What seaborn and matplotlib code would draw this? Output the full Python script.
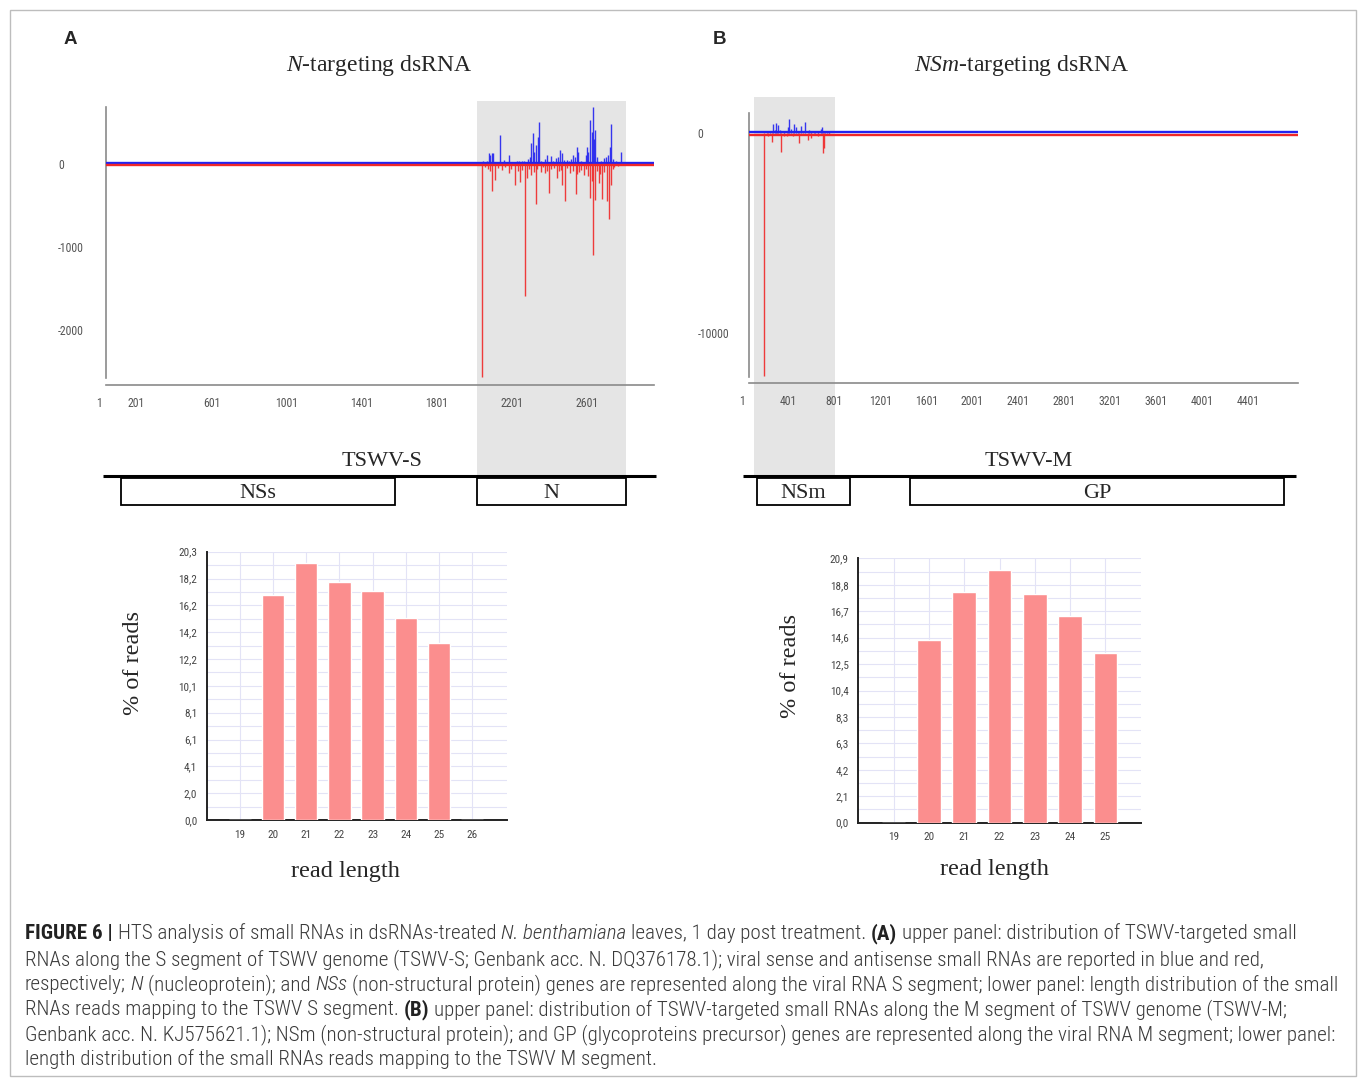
import numpy as np
import pandas as pd
import matplotlib
matplotlib.use("Agg")
import matplotlib.pyplot as plt
import matplotlib.transforms as mtransforms
from matplotlib.patches import Rectangle
from matplotlib.ticker import AutoMinorLocator
from matplotlib import font_manager
import seaborn as sns

# ------------------------------------------------------------------ data
# Panel A : TSWV-S coverage (nt position, read count)
s_length = 2921
s_sense_pos = [2011, 2030, 2040, 2047, 2056, 2065, 2080, 2101, 2120, 2150, 2170, 2189,
               2200, 2216, 2230, 2248, 2258, 2266, 2275, 2283, 2292, 2301, 2308, 2320,
               2340, 2352, 2371, 2385, 2400, 2410, 2420, 2429, 2440, 2459, 2470, 2480,
               2491, 2500, 2509, 2518, 2530, 2560, 2565, 2571, 2580, 2589, 2596, 2600,
               2605, 2620, 2640, 2655, 2665, 2677, 2685, 2690, 2700, 2720, 2745]
s_sense_val = [30, 40, 129, 110, 129, 135, 25, 349, 45, 108, 25, 30,
               40, 35, 30, 60, 80, 249, 370, 150, 225, 325, 502, 40,
               60, 108, 96, 35, 70, 90, 169, 129, 50, 48, 40, 60,
               108, 90, 201, 145, 40, 110, 200, 145, 530, 390, 691, 300,
               410, 80, 40, 70, 88, 110, 200, 478, 60, 30, 145]
s_anti_pos = [2006, 2020, 2035, 2045, 2058, 2072, 2090, 2110, 2125, 2150, 2160, 2180,
              2195, 2207, 2220, 2232, 2243, 2255, 2264, 2280, 2292, 2300, 2320, 2330,
              2342, 2350, 2363, 2375, 2390, 2402, 2415, 2425, 2431, 2448, 2460, 2473,
              2490, 2504, 2510, 2520, 2530, 2548, 2560, 2570, 2580, 2590, 2596, 2606,
              2615, 2626, 2635, 2644, 2655, 2669, 2679, 2690, 2700, 2710, 2730]
s_anti_val = [-2570, -40, -60, -80, -326, -193, -45, -70, -35, -112, -60, -253,
              -90, -213, -75, -1587, -169, -60, -133, -100, -482, -55, -96, -40,
              -112, -80, -353, -60, -45, -169, -90, -70, -253, -442, -50, -112,
              -85, -365, -120, -96, -70, -133, -60, -150, -414, -200, -1097, -434,
              -90, -233, -120, -426, -100, -450, -663, -253, -60, -40, -30]
s_xticks = [1, 201, 601, 1001, 1401, 1801, 2201, 2601]
s_yticks = [0, -1000, -2000]
s_ytick_labels = ["0", "-1000", "-2000"]
s_shade = (1978, 2772)
s_genes = ["NSs", "N"]
s_gene_start = [82, 1978]
s_gene_end = [1541, 2772]

# Panel B : TSWV-M coverage
m_length = 4770
m_sense_pos = [180, 204, 220, 232, 250, 267, 300, 334, 345, 360, 389, 404, 420,
               450, 485, 520, 540, 571, 600, 620, 635, 660, 678, 696]
m_sense_val = [133, 467, 150, 500, 417, 167, 100, 300, 717, 200, 467, 333, 120,
               367, 550, 150, 130, 100, 133, 200, 333, 120, 133, 83]
m_anti_pos = [128, 150, 165, 195, 240, 273, 300, 325, 380, 435, 470, 513, 534,
              560, 600, 638, 650, 690]
m_anti_val = [-12150, -80, -117, -417, -100, -950, -150, -117, -120, -500, -90,
              -333, -250, -80, -120, -1000, -750, -100]
m_xticks = [1, 401, 801, 1201, 1601, 2001, 2401, 2801, 3201, 3601, 4001, 4401]
m_yticks = [0, -10000]
m_ytick_labels = ["0", "-10000"]
m_shade = (37, 742)
m_genes = ["NSm", "GP"]
m_gene_start = [67, 1397]
m_gene_end = [877, 4650]

# Read length distributions
lengths_A = ["19", "20", "21", "22", "23", "24", "25", "26"]
pct_A = [0.0, 16.97, 19.37, 17.98, 17.32, 15.28, 13.34, 0.0]
ymax_A = 20.26
ytick_labels_A = ["0,0", "2,0", "4,1", "6,1", "8,1", "10,1", "12,2", "14,2", "16,2", "18,2", "20,3"]

lengths_B = ["19", "20", "21", "22", "23", "24", "25"]
pct_B = [0.0, 14.42, 18.18, 19.91, 18.07, 16.31, 13.36]
ymax_B = 20.86
ytick_labels_B = ["0,0", "2,1", "4,2", "6,3", "8,3", "10,4", "12,5", "14,6", "16,7", "18,8", "20,9"]

# ------------------------------------------------------------------ style
sns.set_style("white")
avail = {f.name for f in font_manager.fontManager.ttflist}


def pick(*names):
    for n in names:
        if n in avail:
            return n
    return "DejaVu Sans"


SERIF = pick("Liberation Serif", "DejaVu Serif")
SANS = pick("Liberation Sans", "DejaVu Sans")
NARROW = pick("Liberation Sans Narrow", "Roboto Condensed", "Liberation Sans")
plt.rcParams["font.family"] = [SANS, "DejaVu Sans"]
plt.rcParams["mathtext.fontset"] = "custom"
plt.rcParams["mathtext.rm"] = SERIF
plt.rcParams["mathtext.it"] = SERIF + ":italic"

W, H = 1358, 1078
fig = plt.figure(figsize=(W / 100, H / 100), dpi=100)
fig.patch.set_facecolor("white")


def ax_px(l, t, r, b):
    return fig.add_axes([l / W, 1 - b / H, (r - l) / W, (b - t) / H])


def ftext(x, y, s, **kw):
    return fig.text(x / W, 1 - y / H, s, **kw)


# outer frame
fig.patches.append(Rectangle((10 / W, 1 - 1076 / H), 1346 / W, 1066 / H,
                             transform=fig.transFigure, fill=False,
                             edgecolor="#bdbdbd", lw=1.0))

BLUE = "#2323f0"
RED = "#f02828"
SHADE = "#e5e5e5"


def coverage(box, xmax, ylim, bounds, spos, sval, apos, aval, xticks,
             yticks, ylabels, shade, sh_top_px, sh_bot_px, ylab_pad):
    l, t, r, b = box
    ax = ax_px(l, t, r, b)
    ax.set_xlim(1, xmax)
    ax.set_ylim(*ylim)
    hpx = b - t
    y0 = (b - sh_bot_px) / hpx
    y1 = (b - sh_top_px) / hpx
    ax.add_patch(Rectangle((shade[0], y0), shade[1] - shade[0], y1 - y0,
                           transform=ax.get_xaxis_transform(), clip_on=False,
                           facecolor=SHADE, lw=0, zorder=0))
    ax.vlines(apos, 0, aval, color=RED, lw=1.0, alpha=0.9, zorder=2)
    ax.vlines(spos, 0, sval, color=BLUE, lw=1.0, alpha=0.9, zorder=2)
    up = mtransforms.offset_copy(ax.transData, fig=fig, y=1.2, units="dots")
    dn = mtransforms.offset_copy(ax.transData, fig=fig, y=-1.2, units="dots")
    ax.plot([1, xmax], [0, 0], color=BLUE, lw=1.7, transform=up, zorder=3,
            solid_capstyle="butt")
    ax.plot([1, xmax], [0, 0], color=RED, lw=1.7, transform=dn, zorder=3,
            solid_capstyle="butt")
    for s in ["top", "right"]:
        ax.spines[s].set_visible(False)
    for s in ["left", "bottom"]:
        ax.spines[s].set_color("#8a8a8a")
        ax.spines[s].set_linewidth(1.2)
    ax.spines["left"].set_bounds(*bounds)
    ax.set_facecolor("none")
    ax.set_xticks(xticks)
    ax.set_xticklabels([str(v) for v in xticks])
    ax.set_yticks(yticks)
    ax.set_yticklabels(ylabels)
    ax.tick_params(axis="both", labelsize=8.5, labelcolor="#555555",
                   color="#8a8a8a", length=4.5, width=1.0, direction="out")
    ax.tick_params(axis="x", pad=4)
    ax.tick_params(axis="y", pad=ylab_pad)
    for tl in ax.get_yticklabels():
        tl.set_ha("left")
        tl.set_fontfamily(NARROW)
    shift = mtransforms.ScaledTranslation(-7 / 100, 0, fig.dpi_scale_trans)
    for tl in ax.get_xticklabels():
        tl.set_transform(tl.get_transform() + shift)
        tl.set_fontfamily(NARROW)
    ax.grid(False)
    return ax


def gene_map(box, xmax, line_x, genes, starts, ends, seg_name, name_x):
    l, t, r, b = box
    ax = ax_px(l, t, r, b)
    ax.set_xlim(1, xmax)
    ax.set_ylim(75, 0)
    ax.axis("off")
    ax.plot(line_x, [36, 36], color="black", lw=2.2, clip_on=False,
            solid_capstyle="butt")
    for g, s0, s1 in zip(genes, starts, ends):
        ax.add_patch(Rectangle((s0, 38), s1 - s0, 27, fill=False,
                               edgecolor="black", lw=1.3, clip_on=False))
        ax.text((s0 + s1) / 2, 53.5, g, ha="center", va="center",
                fontsize=16, family=SERIF)
    ax.text(name_x, 21, seg_name, ha="center", va="center", fontsize=16,
            family=SERIF)
    return ax


# ---- Panel A coverage
axA = coverage((105.8, 106.7, 654, 385), s_length, (-2663, 690), (-2583, 690),
               s_sense_pos, s_sense_val, s_anti_pos, s_anti_val, s_xticks,
               s_yticks, s_ytick_labels, s_shade, 101, 476, 30)
gene_map((105.8, 440, 654, 515), s_length, [-14, 2931], s_genes,
         s_gene_start, s_gene_end, "TSWV-S", 1470)

# ---- Panel B coverage
axB = coverage((749.4, 112.7, 1297.6, 383.3), m_length, (-12500, 1030),
               (-12170, 1030), m_sense_pos, m_sense_val, m_anti_pos,
               m_anti_val, m_xticks, m_yticks, m_ytick_labels, m_shade,
               97, 476, 33)
gene_map((749.4, 440, 1297.6, 515), m_length, [-55, 4753], m_genes,
         m_gene_start, m_gene_end, "TSWV-M", 2430)

# titles and panel letters
ftext(379, 65, r"$\mathit{N}$-targeting dsRNA", ha="center", va="center",
      fontsize=17, family=SERIF)
ftext(1022, 66, r"$\mathit{NSm}$-targeting dsRNA", ha="center", va="center",
      fontsize=17, family=SERIF)
ftext(70, 40, "A", ha="center", va="center", fontsize=13.5, weight="bold",
      family=SANS)
ftext(720, 39, "B", ha="center", va="center", fontsize=13.5, weight="bold",
      family=SANS)

BAR = "#fb8e8e"
GRID = "#e3e3f6"


def length_plot(box, lengths, pct, ymax, ylabels, xmax_pos, ylab_xy, xlab_xy,
                minor_x):
    l, t, r, b = box
    ax = ax_px(l, t, r, b)
    df = pd.DataFrame({"read length": lengths, "pct": pct})
    sns.barplot(data=df, x="read length", y="pct", order=lengths, color=BAR,
                saturation=1, width=0.67, ax=ax, zorder=3)
    ax.set_xlim(-1, xmax_pos)
    ax.set_ylim(0, ymax)
    ax.set_yticks([ymax * i / 10 for i in range(11)])
    ax.set_yticklabels(ylabels)
    ax.yaxis.set_minor_locator(AutoMinorLocator(2))
    if minor_x:
        ax.xaxis.set_minor_locator(AutoMinorLocator(2))
    ax.set_axisbelow(True)
    ax.grid(True, which="both", axis="y", color=GRID, lw=0.8)
    ax.grid(True, which="major", axis="x", color=GRID, lw=0.8)
    for s in ["top", "right"]:
        ax.spines[s].set_visible(False)
    for s in ["left", "bottom"]:
        ax.spines[s].set_color("#222222")
        ax.spines[s].set_linewidth(1.4)
    ax.tick_params(axis="both", which="major", labelsize=8, labelcolor="#444444",
                   color="#222222", length=4, width=1.3, direction="out", pad=3)
    ax.tick_params(axis="both", which="minor", color="#222222", length=2.5,
                   width=1.3, direction="out")
    for tl in ax.get_xticklabels() + ax.get_yticklabels():
        tl.set_fontfamily(NARROW)
    ax.set_xlabel("read length", fontsize=17.5, family=SERIF, va="center")
    ax.set_ylabel("% of reads", fontsize=17.5, family=SERIF, va="center")
    ax.xaxis.set_label_coords((xlab_xy[0] - l) / (r - l), (b - xlab_xy[1]) / (b - t))
    ax.yaxis.set_label_coords((ylab_xy[0] - l) / (r - l), (b - ylab_xy[1]) / (b - t))
    ax.set_facecolor("white")
    return ax


length_plot((207, 551.7, 507, 820), lengths_A, pct_A, ymax_A, ytick_labels_A,
            8.06, (133, 663), (345, 871), False)
length_plot((858.3, 558.3, 1140.7, 822.7), lengths_B, pct_B, ymax_B,
            ytick_labels_B, 7.0, (791, 666), (994, 870), True)

# ------------------------------------------------------------------ caption
caption = [
    [("FIGURE 6 | ", "b"), ("HTS analysis of small RNAs in dsRNAs-treated ", "n"),
     ("N. benthamiana", "i"), (" leaves, 1 day post treatment. ", "n"), ("(A)", "b"),
     (" upper panel: distribution of TSWV-targeted small", "n")],
    [("RNAs along the S segment of TSWV genome (TSWV-S; Genbank acc. N. DQ376178.1); "
      "viral sense and antisense small RNAs are reported in blue and red,", "n")],
    [("respectively; ", "n"), ("N", "i"), (" (nucleoprotein); and ", "n"), ("NSs", "i"),
     (" (non-structural protein) genes are represented along the viral RNA S segment; "
      "lower panel: length distribution of the small", "n")],
    [("RNAs reads mapping to the TSWV S segment. ", "n"), ("(B)", "b"),
     (" upper panel: distribution of TSWV-targeted small RNAs along the M segment "
      "of TSWV genome (TSWV-M;", "n")],
    [("Genbank acc. N. KJ575621.1); NSm (non-structural protein); and GP "
      "(glycoproteins precursor) genes are represented along the viral RNA M "
      "segment; lower panel:", "n")],
    [("length distribution of the small RNAs reads mapping to the TSWV M segment.", "n")],
]
caption_y = [939, 965, 990, 1015, 1040, 1065]

renderer = fig.canvas.get_renderer()


def space_width(size):
    a = fig.text(0, 0, "x x", fontsize=size, family=NARROW, weight="light")
    c = fig.text(0, 0, "xx", fontsize=size, family=NARROW, weight="light")
    w = a.get_window_extent(renderer).width - c.get_window_extent(renderer).width
    a.remove()
    c.remove()
    return w


def rich_line(y_px, segs, size, x0=25):
    sp = space_width(size)
    x = x0
    arts = []
    for txt, sty in segs:
        core = txt.strip()
        if txt.startswith(" "):
            x += sp
        t = ftext(x, y_px, core, fontsize=size, family=NARROW,
                  weight="bold" if sty == "b" else "light",
                  style="italic" if sty == "i" else "normal",
                  color="#222222" if sty == "b" else "#3a3a3a",
                  ha="left", va="baseline")
        x += t.get_window_extent(renderer).width
        if txt.endswith(" "):
            x += sp
        arts.append(t)
    return x, arts


trial = 12.0
end, arts = rich_line(caption_y[0], caption[0], trial)
for a in arts:
    a.remove()
cap_size = trial * (1294 - 25) / (end - 25)
for y, segs in zip(caption_y, caption):
    rich_line(y, segs, cap_size)

fig.savefig("out.png", dpi=100, facecolor="white")
